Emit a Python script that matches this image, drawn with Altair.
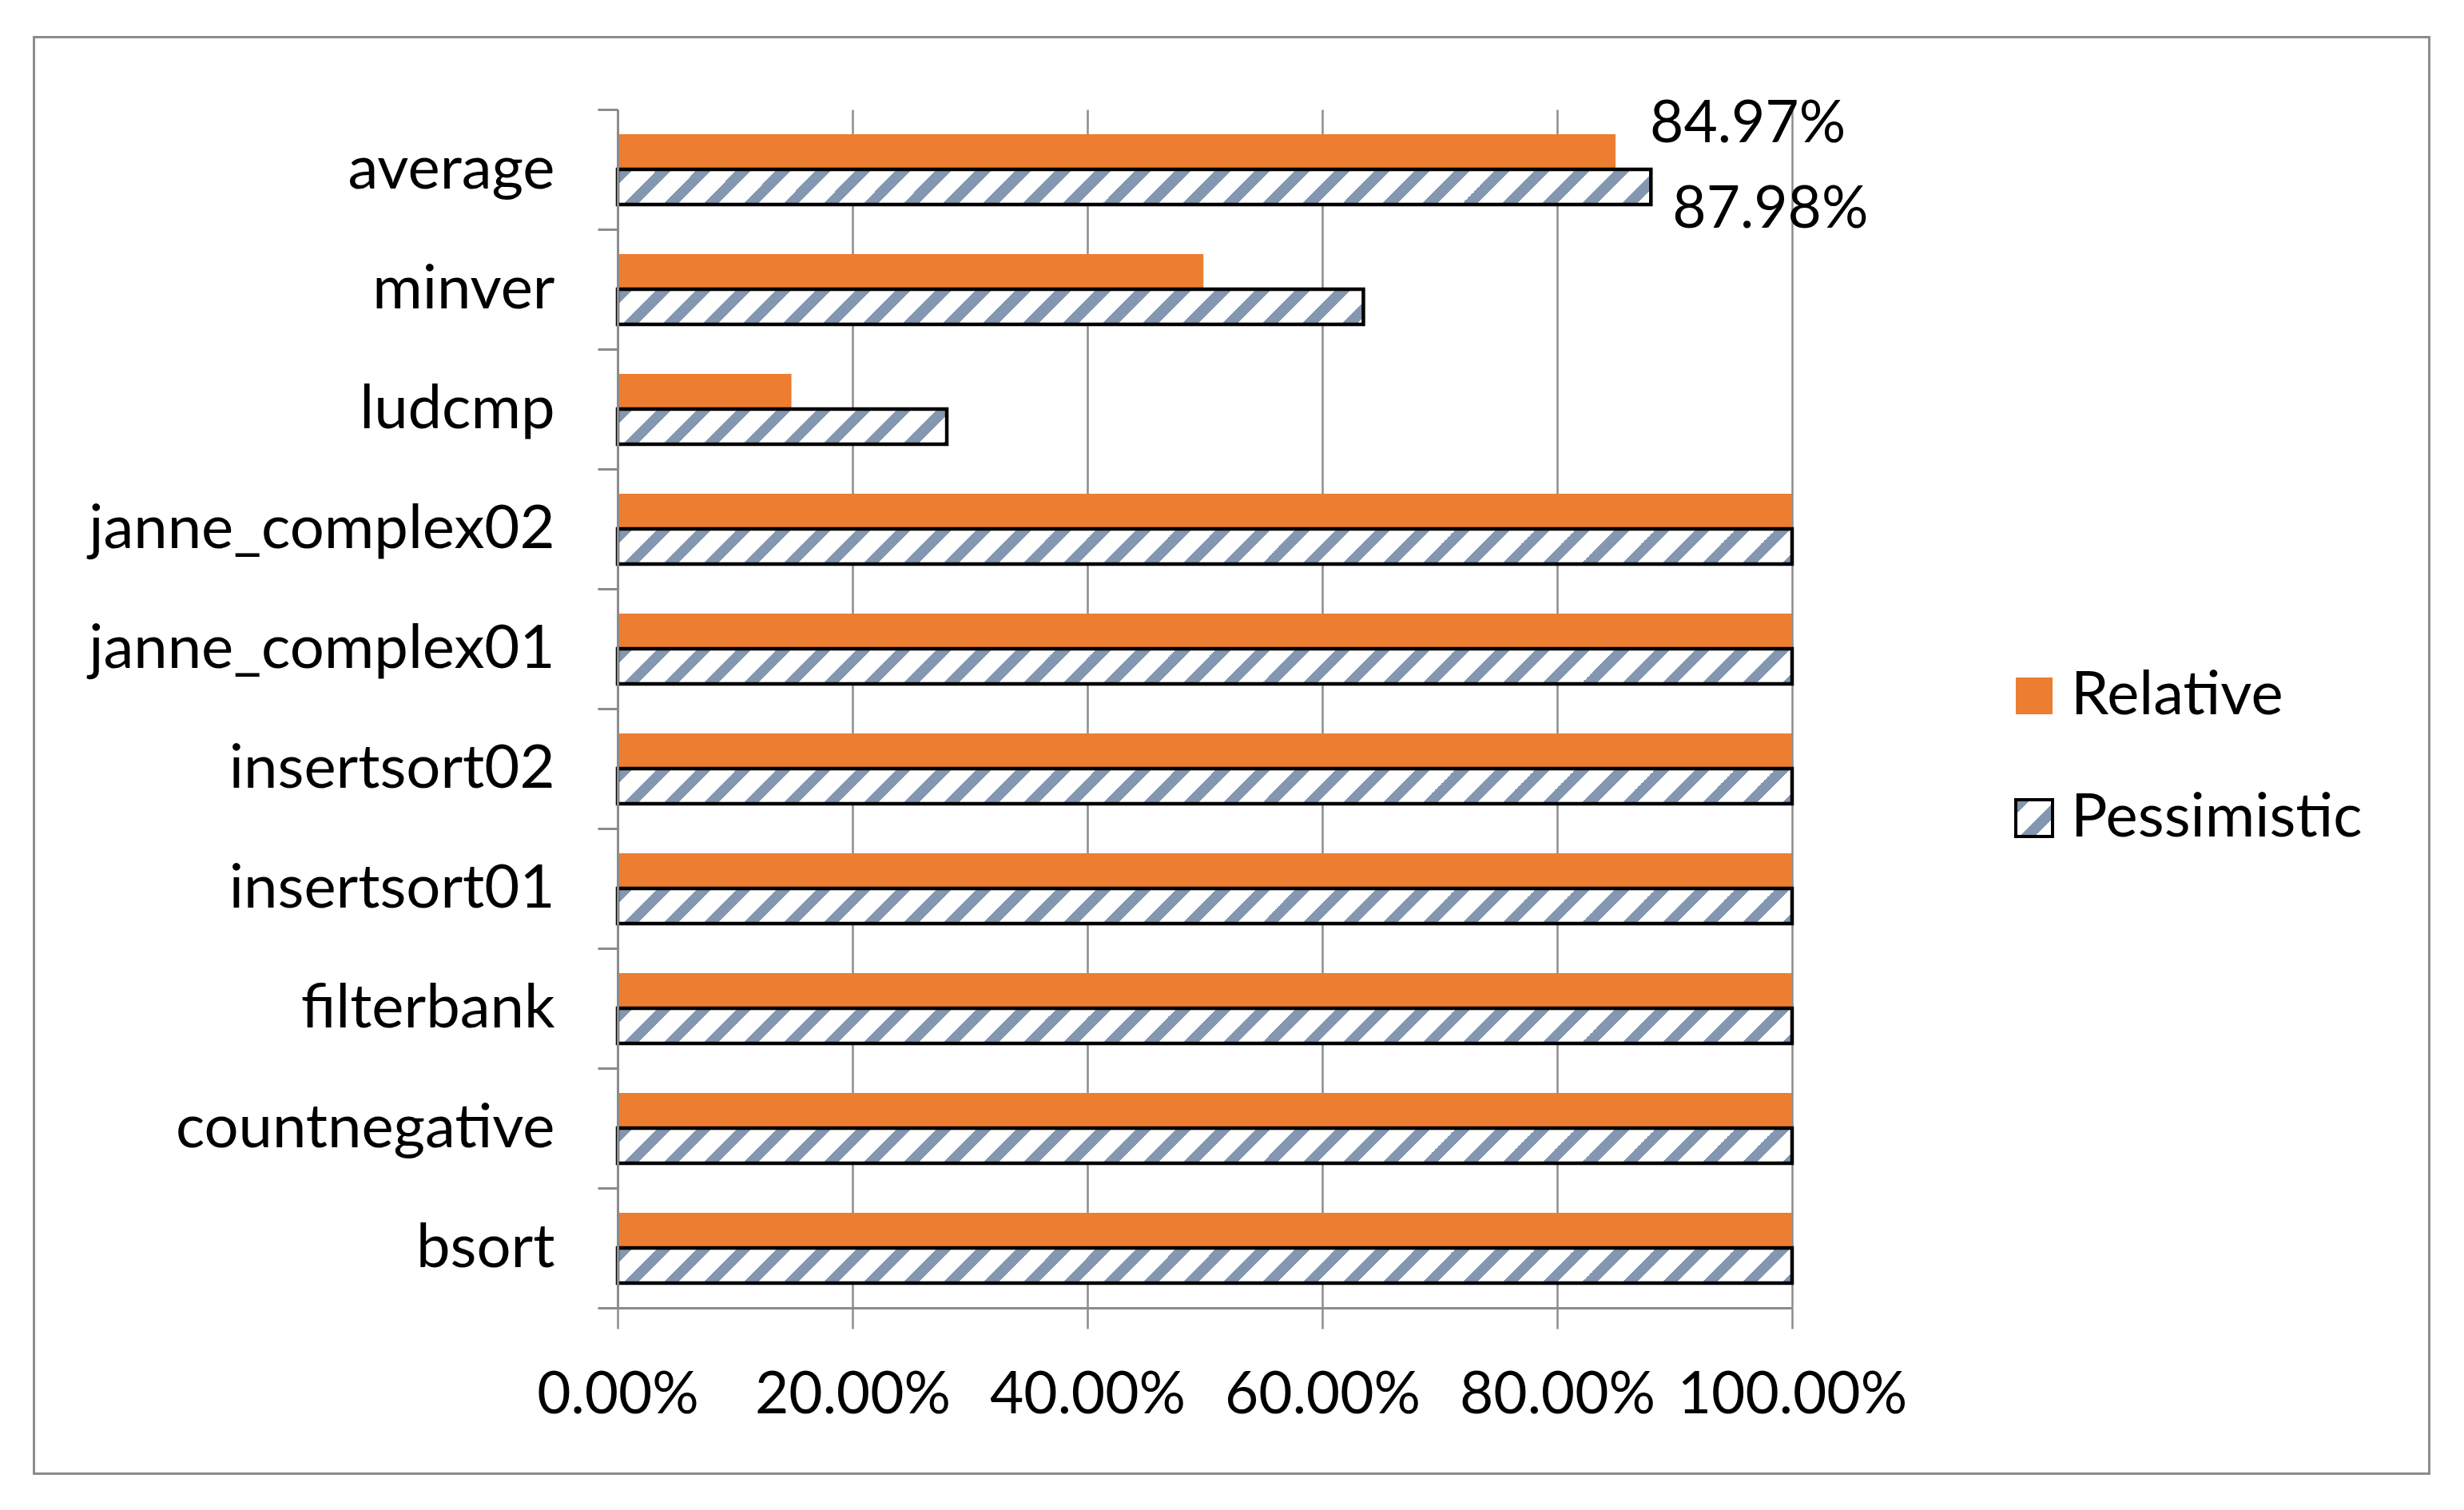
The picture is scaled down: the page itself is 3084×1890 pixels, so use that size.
import altair as alt
import pandas as pd

# ---------------- data ----------------
categories = ["average", "minver", "ludcmp", "janne_complex02", "janne_complex01",
              "insertsort02", "insertsort01", "filterbank", "countnegative", "bsort"]
relative = [0.8497, 0.4988, 0.1480, 1.0, 1.0, 1.0, 1.0, 1.0, 1.0, 1.0]
pessimistic = [0.8798, 0.6350, 0.2803, 1.0, 1.0, 1.0, 1.0, 1.0, 1.0, 1.0]
series = ["Relative", "Pessimistic"]
x_ticks = [0.0, 0.2, 0.4, 0.6, 0.8, 1.0]
labelled = "average"

# ---------------- style ----------------
ORANGE = "#ED7D31"
HATCH = "#8497B0"
GRAY = "#8c8c8c"
FONT = "Lato"
FS = 73      # numbers
FS_T = 76    # words

rows = ([{"category": c, "series": "Relative", "value": v} for c, v in zip(categories, relative)]
        + [{"category": c, "series": "Pessimistic", "value": v} for c, v in zip(categories, pessimistic)])
df = pd.DataFrame(rows)


def stripe_stops(L, period=50.0, width=19.0):
    stops = []
    i = 0
    while i * period < L:
        a = i * period / L
        b = min((i * period + width) / L, 1.0)
        stops += [(a, "#ffffff"), (a, HATCH), (b, HATCH), (b, "#ffffff")]
        i += 1
    return stops


def stops_js(stops):
    return "[" + ",".join("{offset:%.5f,color:'%s'}" % (o, c) for o, c in stops) + "]"


# hatch gradient for bars (diagonal stripes, objectBoundingBox based)
L = 1600.0
W = "(scale('x', datum.value) - scale('x', 0))"
H = "bandwidth('yOffset')"
D = "(" + W + "*" + W + "+" + H + "*" + H + ")"
bar_grad = ("{gradient:'linear', x1:0, y1:0, x2:" + str(L) + "*" + W + "/" + D
            + ", y2:" + str(L) + "*" + H + "/" + D + ", stops:" + stops_js(stripe_stops(L)) + "}")

# hatch gradient for legend square (46 px)
SQ = 46.0
LS = 120.0
legend_grad = ("{gradient:'linear', x1:0, y1:0, x2:%.5f, y2:%.5f, stops:%s}"
               % (LS / (2 * SQ), LS / (2 * SQ), stops_js(stripe_stops(LS))))

# category slots with no padding (ticks on slot boundaries); bar pair centred by offset padding
off_pad = (150.0 / 44.0 - 2.0) / 2.0

y_enc = alt.Y(
    "category:N", sort=categories, title=None,
    scale=alt.Scale(paddingInner=0, paddingOuter=0),
    axis=alt.Axis(domainColor=GRAY, domainWidth=3, tickColor=GRAY, tickWidth=3, tickSize=25,
                  tickBand="extent", labelFont=FONT, labelFontSize=FS_T, labelColor="black",
                  labelPadding=54, labelLimit=2000, grid=False, zindex=1),
)
yoff_enc = alt.YOffset("series:N", sort=series,
                       scale=alt.Scale(domain=series, paddingInner=0, paddingOuter=off_pad))
x_enc = alt.X(
    "value:Q", title=None,
    scale=alt.Scale(domain=[0, 1], nice=False, zero=True),
    axis=alt.Axis(values=x_ticks, format=".2%", domainColor=GRAY, domainWidth=3,
                  tickColor=GRAY, tickWidth=2.5, tickSize=26, grid=True, gridColor=GRAY,
                  gridWidth=2.5, labelFont=FONT, labelFontSize=FS, labelColor="black",
                  labelBaseline="alphabetic", labelPadding=105, labelFlush=False,
                  labelOverlap=False, labelLimit=2000),
)

leg = alt.Legend(orient="none", legendX=1735, legendY=696, title=None, symbolType="square",
                 symbolSize=SQ * SQ, symbolStrokeWidth=4, labelFont=FONT, labelFontSize=FS_T,
                 labelColor="black", labelOffset=8, rowPadding=77, padding=0, labelLimit=2000)

frame = alt.Chart(alt.Data(values=[{"frame": 1}])).mark_rect(
    fill="transparent", stroke=GRAY, strokeWidth=3
).encode(x=alt.value(-730.5), x2=alt.value(2267.5), y=alt.value(-90.5), y2=alt.value(1707.5))

rel_bars = alt.Chart(df).transform_filter(alt.datum.series == "Relative").mark_bar().encode(
    x=x_enc, y=y_enc, yOffset=yoff_enc,
    color=alt.Color("series:N", title=None,
                    scale=alt.Scale(domain=series, range=[ORANGE, alt.ExprRef(legend_grad)]),
                    legend=leg),
    stroke=alt.Stroke("series:N", title=None,
                      scale=alt.Scale(domain=series, range=["transparent", "black"]),
                      legend=leg),
)

pes_bars = alt.Chart(df).transform_filter(alt.datum.series == "Pessimistic").mark_bar(
    fill=alt.ExprRef(bar_grad), stroke="black", strokeWidth=4.5
).encode(x=x_enc, y=y_enc, yOffset=yoff_enc)

rel_text = alt.Chart(df).transform_filter(
    "datum.series === 'Relative' && datum.category === '%s'" % labelled
).mark_text(font=FONT, fontSize=FS, align="left", baseline="alphabetic", dx=43, dy=-12,
            color="black").encode(
    x=x_enc, y=y_enc, yOffset=yoff_enc, text=alt.Text("value:Q", format=".2%"))

pes_text = alt.Chart(df).transform_filter(
    "datum.series === 'Pessimistic' && datum.category === '%s'" % labelled
).mark_text(font=FONT, fontSize=FS, align="left", baseline="alphabetic", dx=27, dy=51,
            color="black").encode(
    x=x_enc, y=y_enc, yOffset=yoff_enc, text=alt.Text("value:Q", format=".2%"))

chart = alt.layer(frame, rel_bars, pes_bars, rel_text, pes_text).properties(
    width=1470, height=1500,
    autosize=alt.AutoSizeParams(type="none"),
    padding={"left": 765, "top": 129, "right": 802, "bottom": 211},
    background="white",
).configure_view(strokeWidth=0)

chart.save("out.html", embed_options={"renderer": "svg", "actions": False})
